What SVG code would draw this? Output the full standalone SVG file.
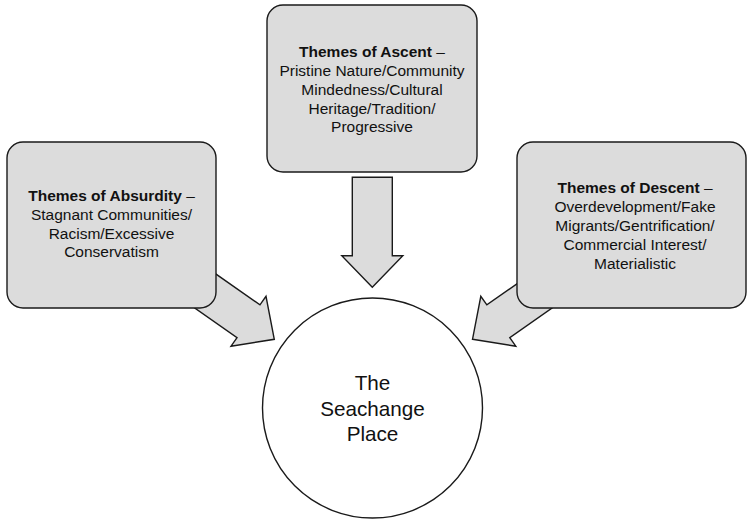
<svg xmlns="http://www.w3.org/2000/svg" width="752" height="519" viewBox="0 0 752 519">
  <defs>
    <style>
      .box { fill: #dcdcdc; stroke: #1a1a1a; stroke-width: 1.4; }
      .arrow { fill: #dcdcdc; stroke: #1a1a1a; stroke-width: 1.4; stroke-linejoin: miter; }
      .hub { fill: #ffffff; stroke: #1a1a1a; stroke-width: 1.4; }
      .txt { font-family: "Liberation Sans", Arial, sans-serif; font-size: 15.5px; fill: #111111; text-anchor: middle; }
      .hubtxt { font-family: "Liberation Sans", Arial, sans-serif; font-size: 20.7px; fill: #111111; text-anchor: middle; }
      .b { font-weight: bold; }
    </style>
    <!-- block arrow pointing along +x with its tip at the origin -->
    <path id="blockArrow" d="M0,0 L-31.5,-30.5 L-31.5,-20 L-110,-20 L-110,20 L-31.5,20 L-31.5,30.5 Z"/>
  </defs>

  <rect width="752" height="519" fill="#ffffff"/>

  <!-- connectors: block arrows into the central circle -->
  <g id="connectors">
    <use href="#blockArrow" class="arrow" transform="translate(372.3,287.3) rotate(90)"/>
    <use href="#blockArrow" class="arrow" transform="translate(274.3,339.3) rotate(35)"/>
    <use href="#blockArrow" class="arrow" transform="translate(472.5,339.3) rotate(145)"/>
  </g>

  <g id="ascent">
    <rect class="box" x="267" y="5" width="210" height="167" rx="16"/>
    <text class="txt" x="372" y="57"><tspan class="b">Themes of Ascent</tspan> –</text>
    <text class="txt" x="372" y="76">Pristine Nature/Community</text>
    <text class="txt" x="372" y="95">Mindedness/Cultural</text>
    <text class="txt" x="372" y="113.5">Heritage/Tradition/</text>
    <text class="txt" x="372" y="132">Progressive</text>
  </g>

  <g id="absurdity">
    <rect class="box" x="7" y="142" width="209" height="166" rx="16"/>
    <text class="txt" x="111.5" y="201"><tspan class="b">Themes of Absurdity</tspan> –</text>
    <text class="txt" x="111.5" y="220">Stagnant Communities/</text>
    <text class="txt" x="111.5" y="238.5">Racism/Excessive</text>
    <text class="txt" x="111.5" y="257">Conservatism</text>
  </g>

  <g id="descent">
    <rect class="box" x="517" y="142" width="229" height="166" rx="16"/>
    <text class="txt" x="635" y="193"><tspan class="b">Themes of Descent</tspan> –</text>
    <text class="txt" x="635" y="212">Overdevelopment/Fake</text>
    <text class="txt" x="635" y="231">Migrants/Gentrification/</text>
    <text class="txt" x="635" y="250">Commercial Interest/</text>
    <text class="txt" x="635" y="269">Materialistic</text>
  </g>

  <g id="seachange">
    <circle class="hub" cx="372.5" cy="408" r="110"/>
    <text class="hubtxt" x="372.5" y="390">The</text>
    <text class="hubtxt" x="372.5" y="416">Seachange</text>
    <text class="hubtxt" x="372.5" y="441">Place</text>
  </g>
</svg>
